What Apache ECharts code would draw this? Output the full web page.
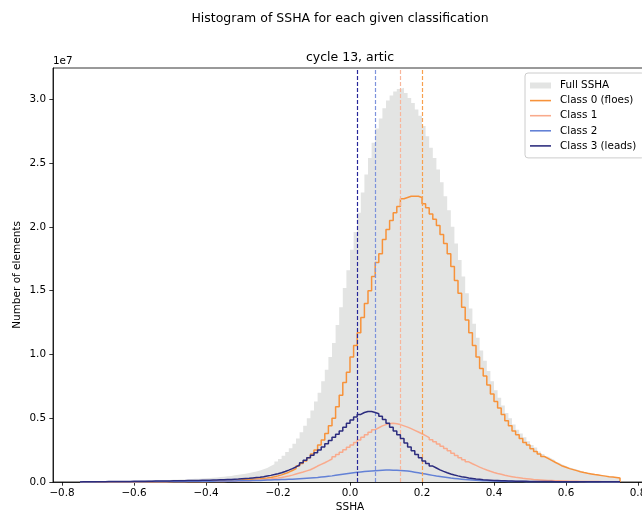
<!DOCTYPE html>
<html>
<head>
<meta charset="utf-8">
<title>Histogram of SSHA</title>
<script src="https://cdn.jsdelivr.net/npm/echarts@6/dist/echarts.min.js"></script>
<style>
html, body { margin: 0; padding: 0; background: #fff; }
#chart { width: 642px; height: 513px; }
</style>
</head>
<body>
<div id="chart"></div>
<script>
// 150 bins of width 0.01 from -0.75 to 0.75, counts in units of 1e7
var binStart = -0.75;
var binWidth = 0.01;
var xTicks = [-0.8, -0.6, -0.4, -0.2, 0.0, 0.2, 0.4, 0.6, 0.8];
var yTicks = [0, 0.5, 1.0, 1.5, 2.0, 2.5, 3.0];
var seriesNames = ['Full SSHA', 'Class 0 (floes)', 'Class 1', 'Class 2', 'Class 3 (leads)'];

var fullSSHA = [
    0.002, 0.002, 0.002, 0.003, 0.003, 0.004, 0.004, 0.004, 0.005, 0.005,
    0.005, 0.006, 0.006, 0.007, 0.008, 0.008, 0.009, 0.010, 0.011, 0.011,
    0.012, 0.012, 0.013, 0.014, 0.016, 0.017, 0.018, 0.019, 0.020, 0.022,
    0.023, 0.025, 0.026, 0.028, 0.030, 0.032, 0.034, 0.036, 0.039, 0.042,
    0.045, 0.048, 0.052, 0.056, 0.060, 0.065, 0.070, 0.076, 0.083, 0.091,
    0.10, 0.11, 0.125, 0.14, 0.16, 0.18, 0.205, 0.235, 0.265, 0.30,
    0.34, 0.39, 0.44, 0.50, 0.56, 0.63, 0.70, 0.79, 0.88, 0.98,
    1.09, 1.23, 1.37, 1.52, 1.66, 1.82, 1.96, 2.11, 2.27, 2.41,
    2.54, 2.66, 2.77, 2.85, 2.93, 2.99, 3.03, 3.06, 3.08, 3.09,
    3.05, 3.01, 2.97, 2.92, 2.87, 2.79, 2.71, 2.62, 2.54, 2.45,
    2.35, 2.24, 2.13, 2.00, 1.87, 1.74, 1.61, 1.48, 1.36, 1.24,
    1.13, 1.03, 0.95, 0.87, 0.79, 0.72, 0.66, 0.60, 0.54, 0.50,
    0.45, 0.41, 0.38, 0.35, 0.32, 0.29, 0.27, 0.24, 0.22, 0.20,
    0.185, 0.17, 0.152, 0.137, 0.125, 0.114, 0.105, 0.097, 0.088, 0.081,
    0.073, 0.067, 0.062, 0.058, 0.053, 0.049, 0.045, 0.042, 0.038, 0.034
];

var class0 = [
    0, 0, 0, 0, 0, 0, 0, 0, 0, 0,
    0, 0, 0, 0, 0, 0, 0.001, 0.001, 0.001, 0.001,
    0.001, 0.001, 0.002, 0.002, 0.002, 0.003, 0.003, 0.004, 0.004, 0.005,
    0.005, 0.006, 0.006, 0.007, 0.008, 0.008, 0.009, 0.010, 0.011, 0.012,
    0.013, 0.014, 0.015, 0.016, 0.017, 0.019, 0.020, 0.022, 0.024, 0.026,
    0.029, 0.032, 0.036, 0.041, 0.048, 0.056, 0.066, 0.077, 0.090, 0.105,
    0.125, 0.145, 0.165, 0.19, 0.22, 0.25, 0.29, 0.33, 0.38, 0.44,
    0.50, 0.59, 0.68, 0.78, 0.86, 0.98, 1.07, 1.17, 1.29, 1.40,
    1.50, 1.61, 1.72, 1.79, 1.90, 1.98, 2.05, 2.11, 2.16, 2.22,
    2.23, 2.24, 2.24, 2.24, 2.23, 2.18, 2.15, 2.10, 2.06, 2.01,
    1.94, 1.87, 1.79, 1.69, 1.58, 1.48, 1.37, 1.27, 1.17, 1.07,
    0.98, 0.89, 0.83, 0.76, 0.69, 0.63, 0.58, 0.53, 0.48, 0.44,
    0.40, 0.37, 0.34, 0.31, 0.29, 0.26, 0.24, 0.22, 0.20, 0.185,
    0.17, 0.155, 0.14, 0.125, 0.115, 0.105, 0.097, 0.089, 0.081, 0.074,
    0.068, 0.063, 0.058, 0.054, 0.050, 0.046, 0.042, 0.039, 0.036, 0.032
];

var class1 = [
    0, 0, 0, 0, 0, 0, 0, 0, 0, 0,
    0, 0, 0, 0, 0, 0, 0, 0, 0, 0,
    0, 0, 0, 0, 0.001, 0.001, 0.001, 0.001, 0.001, 0.001,
    0.001, 0.002, 0.002, 0.002, 0.002, 0.003, 0.003, 0.003, 0.004, 0.004,
    0.005, 0.005, 0.006, 0.007, 0.008, 0.009, 0.010, 0.011, 0.013, 0.015,
    0.017, 0.020, 0.023, 0.027, 0.031, 0.036, 0.041, 0.047, 0.054, 0.062,
    0.070, 0.078, 0.087, 0.096, 0.110, 0.125, 0.138, 0.151, 0.165, 0.180,
    0.197, 0.215, 0.233, 0.252, 0.272, 0.290, 0.310, 0.330, 0.350, 0.370,
    0.390, 0.410, 0.425, 0.440, 0.450, 0.458, 0.460, 0.457, 0.450, 0.440,
    0.430, 0.418, 0.405, 0.392, 0.378, 0.363, 0.348, 0.332, 0.315, 0.298,
    0.280, 0.262, 0.244, 0.226, 0.208, 0.190, 0.174, 0.158, 0.143, 0.130,
    0.117, 0.105, 0.094, 0.084, 0.075, 0.067, 0.060, 0.053, 0.047, 0.042,
    0.037, 0.033, 0.029, 0.026, 0.023, 0.020, 0.018, 0.016, 0.014, 0.012,
    0.011, 0.010, 0.009, 0.008, 0.007, 0.006, 0.005, 0.005, 0.004, 0.004,
    0.004, 0.003, 0.003, 0.003, 0.002, 0.002, 0.002, 0.002, 0.001, 0.001
];

var class2 = [
    0, 0, 0, 0, 0.001, 0.001, 0.001, 0.001, 0.001, 0.001,
    0.001, 0.001, 0.002, 0.002, 0.002, 0.002, 0.002, 0.002, 0.003, 0.003,
    0.003, 0.003, 0.003, 0.003, 0.004, 0.004, 0.004, 0.004, 0.004, 0.005,
    0.005, 0.005, 0.005, 0.006, 0.006, 0.006, 0.006, 0.007, 0.007, 0.007,
    0.008, 0.008, 0.008, 0.009, 0.009, 0.010, 0.010, 0.011, 0.011, 0.012,
    0.014, 0.015, 0.016, 0.017, 0.018, 0.019, 0.020, 0.021, 0.022, 0.024,
    0.026, 0.028, 0.030, 0.032, 0.034, 0.036, 0.039, 0.042, 0.045, 0.048,
    0.052, 0.056, 0.060, 0.064, 0.068, 0.072, 0.076, 0.079, 0.082, 0.085,
    0.087, 0.089, 0.091, 0.093, 0.094, 0.094, 0.093, 0.092, 0.091, 0.089,
    0.086, 0.082, 0.077, 0.072, 0.067, 0.062, 0.057, 0.052, 0.047, 0.043,
    0.039, 0.035, 0.031, 0.028, 0.025, 0.022, 0.019, 0.017, 0.015, 0.013,
    0.011, 0.010, 0.009, 0.008, 0.007, 0.006, 0.005, 0.005, 0.004, 0.004,
    0.003, 0.003, 0.003, 0.002, 0.002, 0.002, 0.002, 0.001, 0.001, 0.001,
    0.001, 0.001, 0.001, 0.001, 0.001, 0.001, 0.001, 0.001, 0.001, 0.001,
    0, 0, 0, 0, 0, 0, 0, 0, 0, 0
];

var class3 = [
    0.001, 0.001, 0.001, 0.002, 0.002, 0.002, 0.002, 0.003, 0.003, 0.003,
    0.003, 0.004, 0.004, 0.004, 0.005, 0.005, 0.005, 0.006, 0.006, 0.006,
    0.007, 0.007, 0.007, 0.008, 0.008, 0.009, 0.009, 0.010, 0.010, 0.011,
    0.011, 0.012, 0.012, 0.013, 0.014, 0.014, 0.015, 0.016, 0.017, 0.018,
    0.019, 0.020, 0.022, 0.023, 0.025, 0.027, 0.029, 0.032, 0.035, 0.038,
    0.042, 0.047, 0.052, 0.058, 0.065, 0.073, 0.082, 0.093, 0.105, 0.118,
    0.133, 0.150, 0.170, 0.190, 0.210, 0.230, 0.250, 0.275, 0.300, 0.325,
    0.350, 0.375, 0.400, 0.430, 0.460, 0.485, 0.510, 0.530, 0.545, 0.553,
    0.553, 0.545, 0.535, 0.515, 0.490, 0.460, 0.430, 0.400, 0.370, 0.340,
    0.305, 0.275, 0.245, 0.215, 0.190, 0.165, 0.145, 0.125, 0.110, 0.095,
    0.083, 0.072, 0.063, 0.055, 0.048, 0.042, 0.037, 0.032, 0.028, 0.024,
    0.021, 0.018, 0.016, 0.014, 0.012, 0.011, 0.010, 0.009, 0.008, 0.007,
    0.006, 0.006, 0.005, 0.005, 0.004, 0.004, 0.004, 0.003, 0.003, 0.003,
    0.003, 0.002, 0.002, 0.002, 0.002, 0.002, 0.002, 0.002, 0.002, 0.002,
    0.001, 0.001, 0.001, 0.001, 0.001, 0.001, 0.001, 0.001, 0.001, 0.001
];

// mean SSHA of each class (dashed vertical lines)
var classMeans = [0.203, 0.136, 0.075, 0.022];

var fontFamily = '"DejaVu Sans", sans-serif';
var fullColor = '#e3e4e3';
var classColors = ['#f7923a', '#f9aa8c', '#6381d6', '#2c2c7e'];
var meanColors = ['#f7a04e', '#f8b59b', '#7d93dc', '#28289a'];

// histogram outline: [left edge, count] points, closed down to 0 at both ends
function stepPoints(vals) {
    var pts = [[binStart, 0]];
    for (var i = 0; i < vals.length; i++) {
        pts.push([+(binStart + i * binWidth).toFixed(2), vals[i]]);
    }
    var end = +(binStart + vals.length * binWidth).toFixed(2);
    pts.push([end, vals[vals.length - 1]]);
    pts.push([end, 0]);
    return pts;
}

function tickText(v) {
    return (v < 0 ? '\u2212' : '') + Math.abs(v).toFixed(1);
}

var classData = [class0, class1, class2, class3];
var series = [{
    name: seriesNames[0],
    type: 'line',
    step: 'end',
    data: stepPoints(fullSSHA),
    symbol: 'none',
    color: fullColor,
    lineStyle: { width: 0, opacity: 0 },
    areaStyle: { color: fullColor, opacity: 1 },
    emphasis: { disabled: true },
    z: 1
}];
for (var k = 0; k < 4; k++) {
    series.push({
        name: seriesNames[k + 1],
        type: 'line',
        step: 'end',
        data: stepPoints(classData[k]),
        symbol: 'none',
        color: classColors[k],
        lineStyle: { width: 1.5, color: classColors[k] },
        emphasis: { disabled: true },
        z: 2 + k,
        markLine: {
            silent: true,
            symbol: ['none', 'none'],
            label: { show: false },
            lineStyle: { type: [4, 2], width: 1.2, color: meanColors[k] },
            data: [{ xAxis: classMeans[k] }]
        }
    });
}

var lineIcon = 'path://M0,0H20V1.5H0Z';
var myChart = echarts.init(document.getElementById('chart'));
var option = {
    animation: false,
    textStyle: { fontFamily: fontFamily },
    grid: {
        left: 53, top: 68, width: 594, height: 414,
        outerBoundsMode: 'none',
        containLabel: false,
        show: true, borderColor: '#000', borderWidth: 0.8
    },
    xAxis: {
        type: 'value',
        min: -0.825,
        max: 0.825,
        name: 'SSHA',
        nameLocation: 'middle',
        nameGap: 20,
        nameMoveOverlap: false,
        nameTextStyle: { fontSize: 10.5, color: '#000', fontFamily: fontFamily },
        axisLine: { onZero: false, lineStyle: { color: '#000', width: 0.8 } },
        axisTick: { customValues: xTicks, length: 3.7, lineStyle: { color: '#000', width: 0.8 } },
        axisLabel: {
            customValues: xTicks, formatter: tickText, margin: 6,
            fontSize: 10.4, color: '#000', fontFamily: fontFamily
        },
        splitLine: { show: false }
    },
    yAxis: {
        type: 'value',
        min: 0,
        max: 3.245,
        name: 'Number of elements',
        nameLocation: 'middle',
        nameGap: 30,
        nameMoveOverlap: false,
        nameTextStyle: { fontSize: 10.5, color: '#000', fontFamily: fontFamily },
        axisLine: { show: true, onZero: false, lineStyle: { color: '#000', width: 0.8 } },
        axisTick: { show: true, customValues: yTicks, length: 3.7, lineStyle: { color: '#000', width: 0.8 } },
        axisLabel: {
            customValues: yTicks, formatter: tickText, margin: 7,
            fontSize: 10.4, color: '#000', fontFamily: fontFamily
        },
        splitLine: { show: false }
    },
    legend: {
        orient: 'vertical',
        left: 525,
        top: 73,
        itemWidth: 21,
        itemHeight: 6,
        itemGap: 5.1,
        padding: [7.5, 8, 7, 5],
        backgroundColor: 'rgba(255,255,255,0.8)',
        borderColor: '#cccccc',
        borderWidth: 1,
        borderRadius: 3,
        textStyle: { fontSize: 10.4, color: '#000', fontFamily: fontFamily, padding: [0, 0, 0, 4] },
        data: [
            { name: seriesNames[0], icon: 'rect' },
            { name: seriesNames[1], icon: lineIcon },
            { name: seriesNames[2], icon: lineIcon },
            { name: seriesNames[3], icon: lineIcon },
            { name: seriesNames[4], icon: lineIcon }
        ]
    },
    graphic: [
        {
            type: 'text', x: 340, y: 19,
            style: {
                text: 'Histogram of SSHA for each given classification',
                fontSize: 12.5, fontFamily: fontFamily, fill: '#000',
                textAlign: 'center', textVerticalAlign: 'middle'
            }
        },
        {
            type: 'text', x: 350, y: 58,
            style: {
                text: 'cycle 13, artic',
                fontSize: 12.5, fontFamily: fontFamily, fill: '#000',
                textAlign: 'center', textVerticalAlign: 'middle'
            }
        },
        {
            type: 'text', x: 53, y: 61,
            style: {
                text: '1e7',
                fontSize: 10.4, fontFamily: fontFamily, fill: '#000',
                textAlign: 'left', textVerticalAlign: 'middle'
            }
        }
    ],
    series: series
};
myChart.setOption(option);
</script>
</body>
</html>
